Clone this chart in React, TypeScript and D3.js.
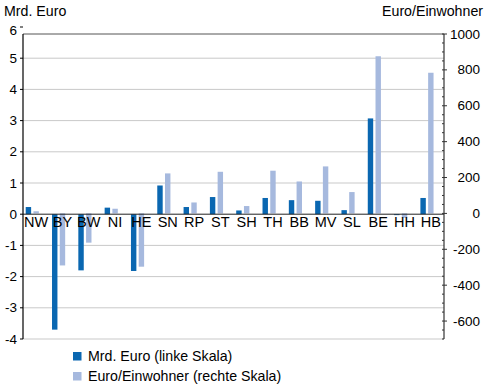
import React from "react";
import * as d3 from "d3";

const categories = ["NW", "BY", "BW", "NI", "HE", "SN", "RP", "ST", "SH", "TH", "BB", "MV", "SL", "BE", "HH", "HB"];
const mrdEuro = [0.23, -3.7, -1.8, 0.21, -1.82, 0.92, 0.23, 0.55, 0.12, 0.52, 0.45, 0.43, 0.13, 3.07, -0.03, 0.52];
const euroProEinwohner = [12, -290, -163, 26, -297, 223, 61, 232, 41, 238, 178, 262, 119, 876, -25, 784];
const leftTicks = [-4, -3, -2, -1, 0, 1, 2, 3, 4, 5, 6];
const rightTicks = [-600, -400, -200, 0, 200, 400, 600, 800, 1000];
const seriesNames = ["Mrd. Euro (linke Skala)", "Euro/Einwohner (rechte Skala)"];
const colors = ["#0a67b1", "#a6b9de"];

const W = 485, H = 391;
const plot = { left: 23, right: 444, top: 34, bottom: 339 };
const FONT = "'Liberation Sans', Arial, Helvetica, sans-serif";

export default function App() {
  const x0 = d3.scaleBand<string>().domain(categories).range([plot.left, plot.right]).padding(0);
  const x1 = d3.scaleBand<string>().domain(["a", "b", "c"]).range([0, x0.bandwidth()]).paddingInner(0.3).paddingOuter(0.35);
  const yL = d3.scaleLinear().domain([-4, 6]).range([339, 27]);
  const yR = d3.scaleLinear().domain([-700, 1000]).range([plot.bottom, plot.top]);
  const minor = d3.range(-700, 1001, 50);

  return (
    <svg width={W} height={H} style={{ position: "absolute", left: 0, top: 0, fontFamily: FONT }}>
      <rect width={W} height={H} fill="#fff" />
      {/* gridlines */}
      {leftTicks.filter((t) => t !== 0 && t !== 6).map((t) => (
        <line key={"g" + t} x1={plot.left} x2={plot.right} y1={yL(t)} y2={yL(t)} stroke="#c9c9c9" strokeWidth={1} />
      ))}
      <line x1={plot.left} x2={plot.right} y1={plot.top} y2={plot.top} stroke="#555" strokeWidth={1} />
      {/* bars */}
      {categories.map((c, i) => {
        const bx = x0(c)!;
        const v1 = mrdEuro[i];
        const v2 = euroProEinwohner[i];
        return (
          <g key={c}>
            <rect x={bx + x1("a")!} width={x1.bandwidth()} y={Math.min(yL(v1), yL(0))} height={Math.abs(yL(v1) - yL(0))} fill={colors[0]} />
            <rect x={bx + x1("b")!} width={x1.bandwidth()} y={Math.min(yR(v2), yR(0))} height={Math.abs(yR(v2) - yR(0))} fill={colors[1]} />
          </g>
        );
      })}
      {/* zero line */}
      <line x1={plot.left} x2={plot.right} y1={yL(0)} y2={yL(0)} stroke="#222" strokeWidth={1} />
      {/* category labels */}
      {categories.map((c) => (
        <text key={"l" + c} x={x0(c)! + x0.bandwidth() / 2} y={yL(0) + 13} textAnchor="middle" fontSize={14.5} fill="#000">{c}</text>
      ))}
      {/* left axis */}
      <line x1={plot.left} x2={plot.left} y1={plot.top} y2={plot.bottom} stroke="#000" strokeWidth={1.2} />
      {leftTicks.map((t) => (
        <g key={"lt" + t}>
          <line x1={plot.left - 3} x2={plot.left} y1={yL(t)} y2={yL(t)} stroke="#000" />
          <text x={17} y={Math.max(yL(t), 30) + 4.5} textAnchor="end" fontSize={13.5} fill="#000">{t}</text>
        </g>
      ))}
      {/* right axis */}
      <line x1={plot.right} x2={plot.right} y1={plot.top} y2={plot.bottom} stroke="#333" strokeWidth={1.2} />
      {minor.map((t) => (
        <line key={"m" + t} x1={plot.right - 2} x2={plot.right} y1={yR(t)} y2={yR(t)} stroke="#333" />
      ))}
      {rightTicks.map((t) => (
        <g key={"rt" + t}>
          <line x1={plot.right} x2={plot.right + 3} y1={yR(t)} y2={yR(t)} stroke="#333" />
          <text x={480} y={yR(t) + 4.5} textAnchor="end" fontSize={13.5} fill="#000">{t}</text>
        </g>
      ))}
      {/* axis titles */}
      <text x={4} y={16} fontSize={14.2} fill="#000">Mrd. Euro</text>
      <text x={483} y={16} textAnchor="end" fontSize={14.2} fill="#000">Euro/Einwohner</text>
      {/* legend */}
      {seriesNames.map((s, i) => (
        <g key={s}>
          <rect x={73} y={352 + i * 20} width={8.5} height={8.5} fill={colors[i]} />
          <text x={88} y={361 + i * 20} fontSize={14.2} fill="#000">{s}</text>
        </g>
      ))}
    </svg>
  );
}
